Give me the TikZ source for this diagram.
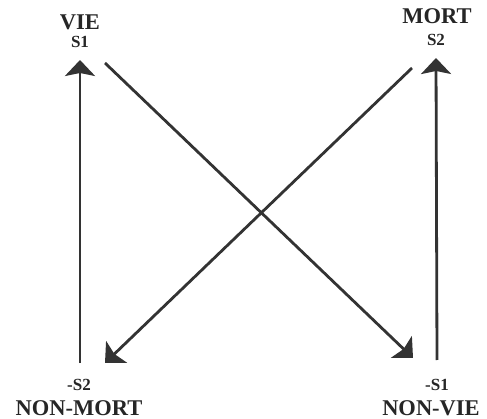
\documentclass[tikz,border=0pt]{standalone}
\usepackage{fontspec}
\setmainfont{Liberation Serif}
\usetikzlibrary{arrows.meta}
\begin{document}
\begin{tikzpicture}[x=1pt,y=-1pt,
  big/.style={font=\bfseries\fontsize{22.5}{24}\selectfont, text=black!85, inner sep=0pt},
  small/.style={font=\bfseries\fontsize{17}{19}\selectfont, text=black!85, inner sep=0pt},
  arr/.style={draw=black!80, line width=2.8pt, -{Stealth[length=16pt,width=30pt,inset=3pt]}}]
\useasboundingbox (0,0) rectangle (487,419);
% labels
\node[big] (vie) at (80,22) {VIE};
\node[small] (s1) at (80,42) {S1};
\node[big] (mort) at (437,16) {MORT};
\node[small] (s2) at (436,40) {S2};
\node[small] (ms2) at (79,385) {-S2};
\node[big] (nonmort) at (79,408) {NON-MORT};
\node[small] (ms1) at (437,385) {-S1};
\node[big] (nonvie) at (431,408) {NON-VIE};
% end points
\coordinate (lb) at (80,363);
\coordinate (lt) at (80,60);
\coordinate (rb) at (437,360);
\coordinate (rt) at (436,58);
\coordinate (d1s) at (105,63);
\coordinate (d1e) at (413,358);
\coordinate (d2s) at (412,68);
\coordinate (d2e) at (105,363);
% arrows
\draw[arr] (lb) -- (lt);
\draw[arr] (rb) -- (rt);
\draw[arr] (d1s) -- (d1e);
\draw[arr] (d2s) -- (d2e);
\end{tikzpicture}
\end{document}
